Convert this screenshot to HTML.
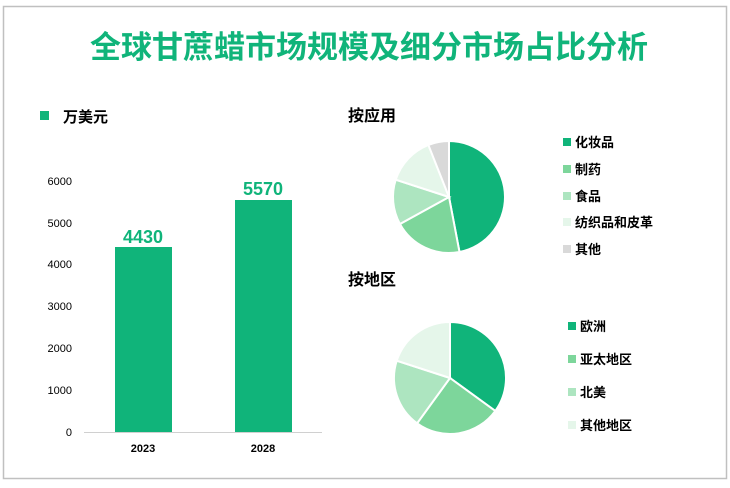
<!DOCTYPE html>
<html><head><meta charset="utf-8"><style>
body{margin:0;background:#fff;}
svg text{font-family:"Liberation Sans","Noto Sans CJK SC",sans-serif;}
</style></head><body>
<svg width="730" height="483" viewBox="0 0 730 483" xmlns="http://www.w3.org/2000/svg">
<rect x="0" y="0" width="730" height="483" fill="#fff"/>
<rect x="3.5" y="6.5" width="723" height="472" fill="none" stroke="#c0c0c0" stroke-width="1.5"/>
<text x="369" y="58" text-anchor="middle" font-size="31" font-weight="bold" fill="#10b47a">全球甘蔗蜡市场规模及细分市场占比分析</text>
<rect x="40" y="111" width="9" height="9" fill="#10b47a"/>
<text x="63" y="122" font-size="15" font-weight="bold" fill="#000">万美元</text>
<g font-size="11" fill="#000" text-anchor="end">
<text x="72" y="436">0</text><text x="72" y="394">1000</text><text x="72" y="352">2000</text>
<text x="72" y="310">3000</text><text x="72" y="268">4000</text><text x="72" y="227">5000</text><text x="72" y="185">6000</text>
</g>
<line x1="84" y1="432.5" x2="322" y2="432.5" stroke="#d0d0d0"/>
<rect x="115" y="247" width="57" height="185" fill="#10b47a"/>
<rect x="235" y="200" width="57" height="232" fill="#10b47a"/>
<text x="143" y="243" text-anchor="middle" font-size="18" font-weight="bold" fill="#10b47a">4430</text>
<text x="263" y="195" text-anchor="middle" font-size="18" font-weight="bold" fill="#10b47a">5570</text>
<text x="143" y="452" text-anchor="middle" font-size="11" font-weight="bold">2023</text>
<text x="263" y="452" text-anchor="middle" font-size="11" font-weight="bold">2028</text>
<text x="348" y="121" font-size="16" font-weight="bold">按应用</text>
<text x="348" y="285" font-size="16" font-weight="bold">按地区</text>
<g id="p1" stroke="#fff" stroke-width="2"></g>
<g id="p2" stroke="#fff" stroke-width="2"></g>
<g font-size="13" font-weight="bold" fill="#000">
<rect x="563" y="138" width="8" height="8" fill="#10b47a"/><text x="575" y="147">化妆品</text>
<rect x="563" y="165" width="8" height="8" fill="#7dd69b"/><text x="575" y="174">制药</text>
<rect x="563" y="192" width="8" height="8" fill="#ade5c0"/><text x="575" y="201">食品</text>
<rect x="563" y="218" width="8" height="8" fill="#e5f6ea"/><text x="575" y="227">纺织品和皮革</text>
<rect x="563" y="245" width="8" height="8" fill="#d9d9d9"/><text x="575" y="254">其他</text>
<rect x="568" y="322" width="8" height="8" fill="#10b47a"/><text x="580" y="331">欧洲</text>
<rect x="568" y="355" width="8" height="8" fill="#7dd69b"/><text x="580" y="364">亚太地区</text>
<rect x="568" y="388" width="8" height="8" fill="#ade5c0"/><text x="580" y="397">北美</text>
<rect x="568" y="421" width="8" height="8" fill="#e5f6ea"/><text x="580" y="430">其他地区</text>
</g>
</svg>
<script>
function pie(id,cx,cy,r,vals,cols){var g=document.getElementById(id),a=0,s='';
vals.forEach(function(v,i){var a0=a*2*Math.PI/100,a1=(a+v)*2*Math.PI/100;a+=v;
var x0=cx+r*Math.sin(a0),y0=cy-r*Math.cos(a0),x1=cx+r*Math.sin(a1),y1=cy-r*Math.cos(a1);
s+='<path d="M'+cx+' '+cy+'L'+x0+' '+y0+'A'+r+' '+r+' 0 '+(v>50?1:0)+' 1 '+x1+' '+y1+'Z" fill="'+cols[i]+'"/>';});
g.innerHTML=s;}
pie('p1',449,197,56,[47,20,13,14,6],['#10b47a','#7dd69b','#ade5c0','#e5f6ea','#d9d9d9']);
pie('p2',450,378,56,[35,25,20,20],['#10b47a','#7dd69b','#ade5c0','#e5f6ea']);
</script>
</body></html>
